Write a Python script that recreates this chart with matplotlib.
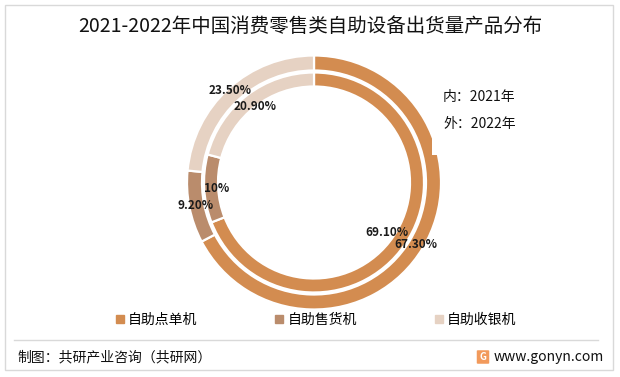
import matplotlib
matplotlib.use("Agg")
import matplotlib.pyplot as plt
from matplotlib.patches import Rectangle, FancyBboxPatch
import numpy as np

plt.rcParams['font.family'] = ['Noto Sans CJK SC', 'DejaVu Sans']

# data
categories = ["自助点单机", "自助售货机", "自助收银机"]
share_2021 = [69.1, 10.0, 20.9]   # inner ring
share_2022 = [67.3, 9.2, 23.5]    # outer ring
labels_2021 = ["69.10%", "10%", "20.90%"]
labels_2022 = ["67.30%", "9.20%", "23.50%"]
colors = ["#D38C50", "#BA8C6C", "#E6D2C3"]

W, H = 620, 377
fig = plt.figure(figsize=(W / 100, H / 100), dpi=100)
fig.patch.set_facecolor("white")

# pie axes: centre (314, 182) px, 1 data unit = 100 px
cx, cy = 314, 182.5
ax = fig.add_axes([(cx - 150) / W, (H - cy - 150) / H, 300 / W, 300 / H])
ax.set_xlim(-1.5, 1.5)
ax.set_ylim(-1.5, 1.5)
ax.axis("off")
ax.patch.set_alpha(0)

wp = dict(edgecolor="white", linewidth=1.6)
outer, _ = ax.pie(share_2022, radius=1.27, startangle=90, counterclock=False,
                  colors=colors, wedgeprops=dict(width=0.15, **wp))
inner, _ = ax.pie(share_2021, radius=1.10, startangle=90, counterclock=False,
                  colors=colors, wedgeprops=dict(width=0.14, **wp))
ax.set_xlim(-1.5, 1.5)
ax.set_ylim(-1.5, 1.5)


def put_labels(wedges, labels, radii):
    for w, lab, r in zip(wedges, labels, radii):
        ang = np.deg2rad((w.theta1 + w.theta2) / 2)
        ax.text(r * np.cos(ang), r * np.sin(ang), lab, ha="center", va="center",
                fontsize=8.5, fontweight="bold", color="#1a1a1a", zorder=5)


put_labels(outer, labels_2022, [1.19, 1.21, 1.24])
put_labels(inner, labels_2021, [0.88, 0.98, 0.96])

# white text box that hides part of the outer ring
fig.patches.append(Rectangle((432 / W, 1 - 155 / H), 100 / W, 85 / H,
                             transform=fig.transFigure, facecolor="white",
                             edgecolor="none", zorder=1))
fig.text(443 / W, 1 - 97 / H, "内：2021年", fontsize=10, va="center", color="#111111")
fig.text(443 / W, 1 - 124 / H, "外：2022年", fontsize=10, va="center", color="#111111")

# title
fig.text(0.5, 1 - 26 / H, "2021-2022年中国消费零售类自助设备出货量产品分布",
         ha="center", va="center", fontsize=14, color="#111111")

# legend
handles = [plt.Line2D([], [], marker="s", linestyle="none", markersize=6,
                      markerfacecolor=c, markeredgecolor=c) for c in colors]
fig.legend(handles, categories, loc="center", bbox_to_anchor=(316 / W, 1 - 320 / H),
           ncol=3, frameon=False, fontsize=10, handlelength=0.6, handletextpad=0.3,
           columnspacing=5.6)

# footer
fig.add_artist(plt.Line2D([14 / W, 598 / W], [1 - 340 / H, 1 - 340 / H],
                          color="#D9D9D9", linewidth=1))
fig.text(17 / W, 1 - 357 / H, "制图：共研产业咨询（共研网）", fontsize=10,
         va="center", color="#111111")
fig.patches.append(FancyBboxPatch((478 / W, 1 - 363 / H), 10 / W, 12 / H,
                                  boxstyle="round,pad=0.002", transform=fig.transFigure,
                                  facecolor="#F29A5C", edgecolor="none"))
fig.text(483 / W, 1 - 357 / H, "G", fontsize=7, fontweight="bold", color="white",
         ha="center", va="center")
fig.text(494 / W, 1 - 357 / H, "www.gonyn.com", fontsize=10, va="center", color="#111111")

# outer border
fig.patches.append(Rectangle((5 / W, 1 - 370 / H), 608 / W, 365 / H,
                             transform=fig.transFigure, facecolor="none",
                             edgecolor="#D9D9D9", linewidth=1))

fig.savefig("out.png", dpi=100)
